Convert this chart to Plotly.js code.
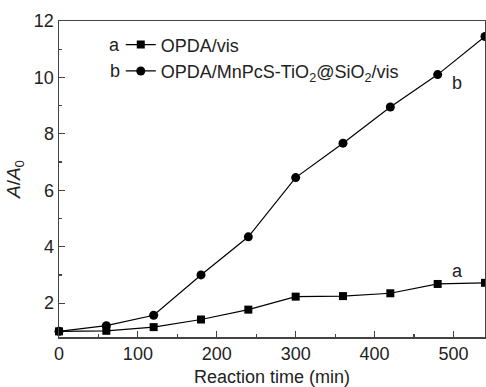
<!DOCTYPE html>
<html><head><meta charset="utf-8">
<script src="https://cdn.plot.ly/plotly-3.0.1.min.js"></script>
<style>html,body{margin:0;padding:0;background:#fff}#chart{width:486px;height:387px}</style>
</head><body><div id="chart"></div>
<script>
const times = [0, 60, 120, 180, 240, 300, 360, 420, 480, 540];
const seriesA = [1.0, 1.02, 1.15, 1.42, 1.77, 2.23, 2.25, 2.35, 2.68, 2.72];
const seriesB = [1.0, 1.2, 1.57, 3.0, 4.35, 6.45, 7.67, 8.95, 10.1, 11.45];
const nameA = 'OPDA/vis';
const nameB = 'OPDA/MnPcS-TiO<sub>2</sub>@SiO<sub>2</sub>/vis';
const font = 'Liberation Sans, Arial, sans-serif';
const txt = '#222';

const traces = [
  {x: times, y: seriesA, name: nameA, mode: 'lines+markers',
   line: {color: '#000', width: 1.2}, marker: {symbol: 'square', size: 8, color: '#000'}, cliponaxis: false},
  {x: times, y: seriesB, name: nameB, mode: 'lines+markers',
   line: {color: '#000', width: 1.2}, marker: {symbol: 'circle', size: 9, color: '#000'}, cliponaxis: false}
];
const axisCommon = {showgrid: false, zeroline: false, showline: true, linecolor: '#444', linewidth: 1.5,
  mirror: true, ticks: 'inside', ticklen: 6, tickwidth: 1.2, tickcolor: '#444',
  tickfont: {family: font, size: 18, color: txt}};
const layout = {
  width: 486, height: 387,
  margin: {l: 59, r: 1, t: 21, b: 50},
  paper_bgcolor: '#fff', plot_bgcolor: '#fff',
  font: {family: font, color: txt},
  showlegend: true,
  legend: {x: 0.145, y: 0.983, xanchor: 'left', yanchor: 'top', bgcolor: 'rgba(0,0,0,0)',
    font: {family: font, size: 18, color: txt}, tracegroupgap: 0, itemwidth: 30},
  xaxis: Object.assign({}, axisCommon, {range: [0, 540], dtick: 100, tick0: 0,
    minor: {dtick: 50, ticks: 'inside', ticklen: 3, tickcolor: '#444'},
    title: {text: 'Reaction time (min)', font: {family: font, size: 18, color: txt}, standoff: 9}}),
  yaxis: Object.assign({}, axisCommon, {range: [0.8, 12], tickvals: [2, 4, 6, 8, 10, 12],
    minor: {tickvals: [3, 5, 7, 9, 11], ticks: 'inside', ticklen: 3, tickcolor: '#444'},
    title: {text: '<i>A</i>/<i>A</i><sub>0</sub>', font: {family: font, size: 19, color: txt}, standoff: 8}}),
  annotations: [
    {xref: 'paper', yref: 'paper', x: 0.148, y: 0.924, text: 'a', showarrow: false, xanchor: 'right', yanchor: 'middle', font: {family: font, size: 18, color: txt}},
    {xref: 'paper', yref: 'paper', x: 0.148, y: 0.842, text: 'b', showarrow: false, xanchor: 'right', yanchor: 'middle', font: {family: font, size: 18, color: txt}},
    {x: 505, y: 3.15, text: 'a', showarrow: false, font: {family: font, size: 18, color: txt}},
    {x: 505, y: 9.8, text: 'b', showarrow: false, font: {family: font, size: 18, color: txt}}
  ]
};
Plotly.newPlot('chart', traces, layout, {displayModeBar: false, staticPlot: true});
</script></body></html>
